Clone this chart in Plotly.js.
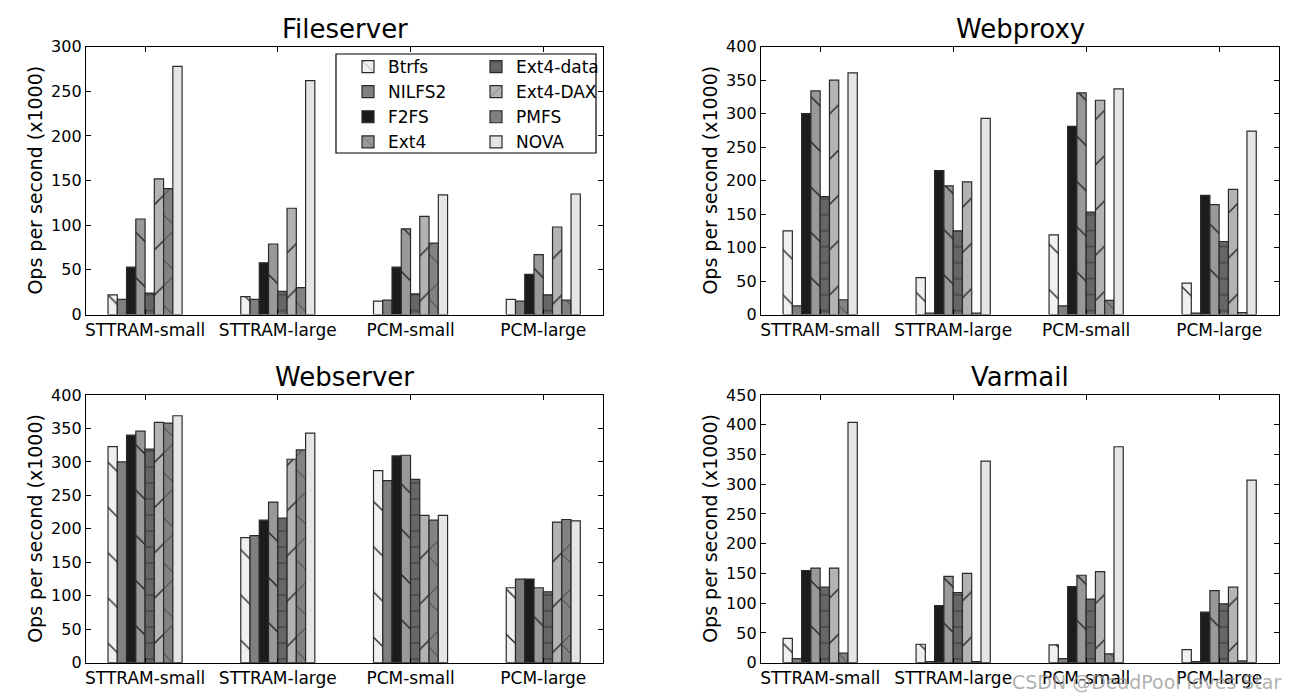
<!DOCTYPE html>
<html>
<head>
<meta charset="utf-8">
<script src="https://cdn.plot.ly/plotly-3.0.1.min.js"></script>
<style>html,body{margin:0;padding:0;background:#fff;}#chart{width:1297px;height:699px;}</style>
</head>
<body>
<div id="chart"></div>
<script>
const categories = ['STTRAM-small', 'STTRAM-large', 'PCM-small', 'PCM-large'];
const seriesNames = ['Btrfs', 'NILFS2', 'F2FS', 'Ext4', 'Ext4-data', 'Ext4-DAX', 'PMFS', 'NOVA'];
const panelTitles = ['Fileserver', 'Webproxy', 'Webserver', 'Varmail'];

// rows follow seriesNames, columns follow categories
const fileserverValues = [
  [22, 20, 15, 17],
  [17, 17, 16, 15],
  [53, 58, 53, 45],
  [107, 79, 96, 67],
  [24, 26, 23, 22],
  [152, 119, 110, 98],
  [141, 30, 80, 16],
  [278, 262, 134, 135]
];
const webproxyValues = [
  [125, 55, 119, 47],
  [13, 2, 13, 2],
  [300, 215, 281, 178],
  [334, 192, 331, 164],
  [176, 125, 153, 109],
  [350, 198, 320, 187],
  [22, 2, 21, 3],
  [361, 293, 337, 274]
];
const webserverValues = [
  [323, 187, 287, 112],
  [300, 190, 272, 125],
  [340, 213, 309, 125],
  [346, 240, 310, 112],
  [319, 216, 274, 106],
  [359, 304, 220, 210],
  [358, 318, 213, 214],
  [369, 343, 220, 212]
];
const varmailValues = [
  [41, 31, 30, 22],
  [7, 2, 7, 2],
  [155, 96, 128, 85],
  [159, 145, 147, 121],
  [127, 118, 107, 99],
  [159, 150, 153, 127],
  [16, 2, 15, 3],
  [404, 339, 363, 307]
];
const yMax = [300, 400, 400, 450];

const fillColors = ['#f0f0f0', '#7f7f7f', '#1c1c1c', '#999999', '#666666', '#b3b3b3', '#828282', '#e5e5e5'];
const patternShapes = ['\\', '', '', '\\', '-', '/', 'x', ''];
const patternSizes = [32, 10, 10, 32, 16, 32, 32, 10];

const panels = [fileserverValues, webproxyValues, webserverValues, varmailValues];
const traces = [];
panels.forEach((vals, p) => {
  const ax = p === 0 ? '' : String(p + 1);
  vals.forEach((row, s) => {
    const pat = patternShapes[s]
      ? {shape: patternShapes[s], fgcolor: '#1a1a1a', bgcolor: fillColors[s], fillmode: 'replace', size: patternSizes[s], solidity: 0.04}
      : {shape: ''};
    traces.push({
      type: 'bar',
      name: seriesNames[s],
      x: categories,
      y: row,
      xaxis: 'x' + ax,
      yaxis: 'y' + ax,
      marker: {color: fillColors[s], line: {color: '#2a2a2a', width: 1.2}, pattern: pat},
      showlegend: p === 0,
      legend: s < 4 ? 'legend' : 'legend2',
      hoverinfo: 'x+y+name'
    });
  });
});

const W = 1297, H = 699;
const px = v => v / W;
const py = v => 1 - v / H;
const xDomains = [[px(86), px(603)], [px(761), px(1279)], [px(86), px(603)], [px(761), px(1279)]];
const yDomains = [[py(314.5), py(46.7)], [py(314.5), py(46.7)], [py(662.7), py(395)], [py(662.7), py(395)]];

const font = {family: 'DejaVu Sans, sans-serif', color: '#000'};
const layout = {
  width: W, height: H,
  margin: {l: 0, r: 0, t: 0, b: 0},
  paper_bgcolor: '#fff', plot_bgcolor: '#fff',
  font: {family: font.family, size: 16, color: '#000'},
  barmode: 'group', bargap: 0.442, bargroupgap: 0,
  showlegend: true,
  legend: {x: px(348), y: py(49), xanchor: 'left', yanchor: 'top', bgcolor: 'rgba(0,0,0,0)', borderwidth: 0,
           font: {family: font.family, size: 17}, tracegroupgap: 0, traceorder: 'normal'},
  legend2: {x: px(476), y: py(49), xanchor: 'left', yanchor: 'top', bgcolor: 'rgba(0,0,0,0)', borderwidth: 0,
            font: {family: font.family, size: 17}, tracegroupgap: 0, traceorder: 'normal'},
  shapes: [{type: 'rect', xref: 'paper', yref: 'paper', x0: px(336), x1: px(596), y0: py(153), y1: py(54),
            line: {color: '#000', width: 1.2}, fillcolor: 'rgba(0,0,0,0)', layer: 'above'}],
  annotations: [],
  hovermode: 'closest'
};

for (let p = 0; p < 4; p++) {
  const ax = p === 0 ? '' : String(p + 1);
  layout['xaxis' + ax] = {
    domain: xDomains[p], anchor: 'y' + ax, type: 'category', range: [-0.445, 3.45],
    showline: true, linecolor: '#000', linewidth: 1.3, mirror: 'ticks',
    ticks: 'inside', ticklen: 5, tickwidth: 1, tickcolor: '#000',
    showgrid: false, zeroline: false,
    tickfont: {family: font.family, size: 17, color: '#000'}
  };
  layout['yaxis' + ax] = {
    domain: yDomains[p], anchor: 'x' + ax, range: [0, yMax[p]], dtick: 50,
    showline: true, linecolor: '#000', linewidth: 1.3, mirror: 'ticks',
    ticks: 'inside', ticklen: 5, tickwidth: 1, tickcolor: '#000',
    showgrid: false, zeroline: false,
    tickfont: {family: font.family, size: 16, color: '#000'}
  };
  const cx = (xDomains[p][0] + xDomains[p][1]) / 2;
  layout.annotations.push({
    text: panelTitles[p], xref: 'paper', yref: 'paper', x: cx, y: yDomains[p][1] + 1 / H,
    xanchor: 'center', yanchor: 'bottom', showarrow: false,
    font: {family: font.family, size: 26, color: '#000'}
  });
  layout.annotations.push({
    text: 'Ops per second (x1000)', xref: 'paper', yref: 'paper',
    x: xDomains[p][0] - 51 / W, y: (yDomains[p][0] + yDomains[p][1]) / 2,
    xanchor: 'center', yanchor: 'middle', textangle: -90, showarrow: false,
    font: {family: font.family, size: 19, color: '#000'}
  });
}
layout.annotations.push({
  text: 'CSDN @DeadPool loves Star', xref: 'paper', yref: 'paper', x: px(1284), y: py(695),
  xanchor: 'right', yanchor: 'bottom', showarrow: false,
  font: {family: font.family, size: 19, color: 'rgba(150,150,150,0.75)'}
});

Plotly.newPlot('chart', traces, layout, {displayModeBar: false, staticPlot: false});
</script>
</body>
</html>
